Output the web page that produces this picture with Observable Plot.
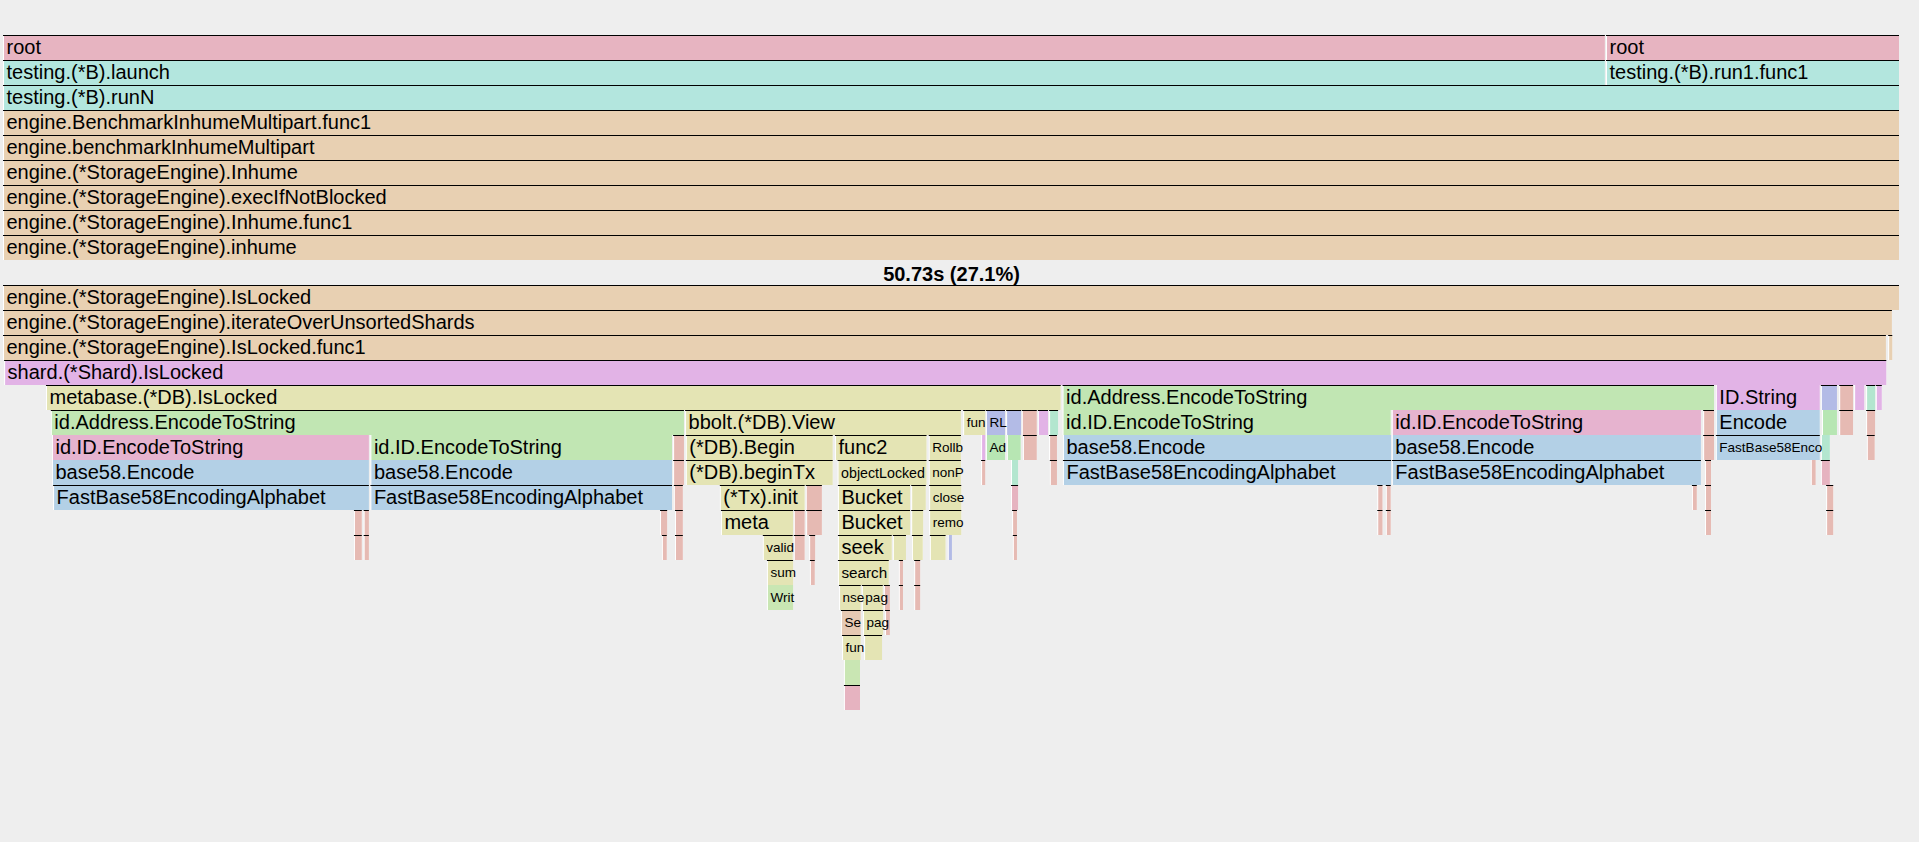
<!DOCTYPE html>
<html>
<head>
<meta charset="utf-8">
<script src="https://cdn.jsdelivr.net/npm/d3@7"></script>
<script src="https://cdn.jsdelivr.net/npm/@observablehq/plot@0.6"></script>
<style>
  html, body { margin: 0; padding: 0; background: #eeeeee; }
  #chart svg { display: block; }
</style>
</head>
<body>
<div id="chart"></div>
<script>
// Total time of the pivot frame (seconds) and its label
const total = 50.73;
const pivotLabel = "50.73s (27.1%)";
const pivotDepth = 9;

// Each row: [label, start (s), duration (s), package, inlined?]
const row0 = [["root", 0, 42.86, "root"], ["root", 42.89, 7.84, "root"]];
const row1 = [["testing.(*B).launch", 0, 42.86, "testing"], ["testing.(*B).run1.func1", 42.89, 7.84, "testing"]];
const row2 = [["testing.(*B).runN", 0, 50.73, "testing"]];
const row3 = [["engine.BenchmarkInhumeMultipart.func1", 0, 50.73, "engine"]];
const row4 = [["engine.benchmarkInhumeMultipart", 0, 50.73, "engine"]];
const row5 = [["engine.(*StorageEngine).Inhume", 0, 50.73, "engine"]];
const row6 = [["engine.(*StorageEngine).execIfNotBlocked", 0, 50.73, "engine"]];
const row7 = [["engine.(*StorageEngine).Inhume.func1", 0, 50.73, "engine"]];
const row8 = [["engine.(*StorageEngine).inhume", 0, 50.73, "engine"]];
const row9 = [];
const row10 = [["engine.(*StorageEngine).IsLocked", 0, 50.73, "engine"]];
const row11 = [["engine.(*StorageEngine).iterateOverUnsortedShards", 0, 50.54, "engine"]];
const row12 = [["engine.(*StorageEngine).IsLocked.func1", 0, 50.38, "engine"], ["", 50.44, 0.11, "engine"]];
const row13 = [["shard.(*Shard).IsLocked", 0.03, 50.36, "shard"]];
const row14 = [
  ["metabase.(*DB).IsLocked", 1.15, 27.15, "metabase"], ["id.Address.EncodeToString", 28.35, 17.43, "oid"],
  ["ID.String", 45.83, 2.78, "shard", 1], ["", 48.64, 0.43, "sync"], ["", 49.13, 0.37, "runtime"],
  ["", 49.53, 0.27, "shard", 1], ["", 49.85, 0.24, "bytes"], ["", 50.11, 0.16, "shard"]
];
const row15 = [
  ["id.Address.EncodeToString", 1.28, 16.94, "oid"], ["bbolt.(*DB).View", 18.25, 7.38, "bbolt"],
  ["fun", 25.69, 0.59, "metabase"], ["RL", 26.30, 0.51, "sync"], ["", 26.84, 0.40, "sync"],
  ["", 27.26, 0.40, "runtime"], ["", 27.69, 0.27, "shard"], ["", 27.99, 0.24, "bytes"],
  ["id.ID.EncodeToString", 28.35, 8.78, "oid", 1], ["id.ID.EncodeToString", 37.16, 8.27, "cid", 1],
  ["", 45.49, 0.29, "runtime"], ["Encode", 45.83, 2.78, "base58", 1], ["", 48.67, 0.40, "addr", 1],
  ["", 49.13, 0.37, "runtime"], ["", 49.85, 0.24, "runtime"]
];
const row16 = [
  ["id.ID.EncodeToString", 1.31, 8.48, "cid", 1], ["id.ID.EncodeToString", 9.83, 8.07, "oid", 1],
  ["", 17.93, 0.29, "runtime"], ["(*DB).Begin", 18.27, 3.93, "bbolt"], ["func2", 22.26, 2.45, "metabase"],
  ["Rollb", 24.77, 0.86, "bbolt"], ["", 26.17, 0.11, "shard", 1], ["Ad", 26.30, 0.51, "addr", 1],
  ["", 26.86, 0.37, "addr", 1], ["", 27.29, 0.37, "runtime"], ["", 27.99, 0.21, "runtime"],
  ["base58.Encode", 28.36, 8.78, "base58", 1], ["base58.Encode", 37.16, 8.27, "base58", 1],
  ["", 45.49, 0.29, "runtime"], ["FastBase58Enco", 45.83, 2.78, "base58"], ["", 48.64, 0.24, "bytes", 1],
  ["", 49.87, 0.21, "runtime"]
];
const row17 = [
  ["base58.Encode", 1.31, 8.48, "base58", 1], ["base58.Encode", 9.83, 8.07, "base58", 1],
  ["", 17.93, 0.29, "runtime"], ["(*DB).beginTx", 18.27, 3.93, "bbolt"], ["objectLocked", 22.33, 2.38, "metabase"],
  ["nonP", 24.77, 0.86, "bbolt"], ["", 26.17, 0.11, "runtime"], ["", 26.97, 0.19, "bytes", 1],
  ["", 28.01, 0.19, "runtime"], ["FastBase58EncodingAlphabet", 28.36, 8.78, "base58"],
  ["FastBase58EncodingAlphabet", 37.16, 8.27, "base58"], ["", 45.54, 0.16, "runtime"],
  ["", 48.37, 0.13, "runtime", 1], ["", 48.64, 0.24, "cmp"]
];
const row18 = [
  ["FastBase58EncodingAlphabet", 1.34, 8.45, "base58"], ["FastBase58EncodingAlphabet", 9.83, 8.07, "base58"],
  ["", 17.95, 0.24, "runtime"], ["(*Tx).init", 19.18, 2.27, "bbolt"], ["", 21.48, 0.43, "runtime"],
  ["Bucket", 22.34, 1.93, "bbolt"], ["", 24.30, 0.39, "bbolt"], ["close", 24.78, 0.86, "bbolt"],
  ["", 26.97, 0.19, "cmp"], ["", 36.77, 0.14, "runtime"], ["", 37.00, 0.13, "runtime"],
  ["", 45.19, 0.13, "runtime"], ["", 45.54, 0.16, "runtime"], ["", 48.78, 0.19, "runtime"]
];
const row19 = [
  ["", 9.39, 0.21, "runtime"], ["", 9.65, 0.14, "runtime"], ["", 17.58, 0.19, "runtime"],
  ["", 17.98, 0.21, "runtime"], ["meta", 19.21, 1.93, "bbolt"], ["", 21.16, 0.29, "runtime"],
  ["", 21.49, 0.42, "runtime"], ["Bucket", 22.34, 1.93, "bbolt"], ["", 24.30, 0.32, "bbolt"],
  ["remo", 24.78, 0.86, "bbolt"], ["", 27.00, 0.13, "runtime"], ["", 36.77, 0.14, "runtime"],
  ["", 37.00, 0.13, "runtime"], ["", 45.54, 0.16, "runtime"], ["", 48.78, 0.19, "runtime"]
];
const row20 = [
  ["", 9.39, 0.21, "runtime"], ["", 9.65, 0.14, "runtime"], ["", 17.63, 0.13, "runtime"],
  ["", 17.98, 0.21, "runtime"], ["valid", 20.33, 0.80, "bbolt"], ["", 21.16, 0.29, "runtime"],
  ["", 21.57, 0.16, "runtime"], ["seek", 22.34, 1.44, "bbolt"], ["", 23.81, 0.35, "bbolt"],
  ["", 24.32, 0.29, "bbolt"], ["", 24.80, 0.42, "bbolt"], ["", 25.28, 0.11, "sync", 1],
  ["", 27.02, 0.11, "runtime"]
];
const row21 = [
  ["sum", 20.44, 0.70, "bbolt"], ["", 21.59, 0.13, "runtime"], ["search", 22.34, 1.36, "bbolt"],
  ["", 23.97, 0.11, "runtime"], ["", 24.38, 0.16, "runtime"]
];
const row22 = [
  ["Writ", 20.44, 0.70, "crc", 1], ["nse", 22.37, 0.58, "bbolt"], ["pag", 22.98, 0.56, "bbolt"],
  ["", 23.57, 0.16, "runtime"], ["", 23.97, 0.11, "runtime"], ["", 24.38, 0.16, "runtime"]
];
const row23 = [["Se", 22.42, 0.53, "sort"], ["pag", 23.01, 0.54, "bbolt"], ["", 23.60, 0.13, "runtime"]];
const row24 = [["fun", 22.45, 0.50, "bbolt"], ["", 23.04, 0.48, "bbolt"]];
const row25 = [["", 22.50, 0.43, "crc", 1]];
const row26 = [["", 22.50, 0.43, "cmp"]];

const rows = [row0, row1, row2, row3, row4, row5, row6, row7, row8, row9, row10, row11, row12,
  row13, row14, row15, row16, row17, row18, row19, row20, row21, row22, row23, row24, row25, row26];

// Package -> colour
const pkgDomain = ["root", "testing", "engine", "shard", "metabase", "bbolt", "oid", "cid", "base58",
  "runtime", "sync", "bytes", "addr", "sort", "crc", "cmp"];
const pkgColors = ["#e7b4c1", "#b3e6de", "#e8d0b2", "#e2b3e6", "#e4e4b4", "#e4e4b4", "#c1e6b3", "#e6b3cf",
  "#b3d0e6", "#e6bab3", "#b3bbe6", "#b3e6cf", "#b7e6b3", "#e6c9b3", "#c9e6b3", "#e6b3c0"];

const boxes = rows.flatMap((r, depth) => r.map(([label, start, value, pkg, inl]) =>
  ({label, start, end: start + value, value, pkg, inl: !!inl, depth})));

const xOpts = {domain: [0, total], range: [3, 1899]};
const xs = Plot.scale({x: xOpts});
const FONT = '"Liberation Sans", Arial, Helvetica, sans-serif';
const ctx = document.createElement("canvas").getContext("2d");
function tw(s, fs) { ctx.font = `${fs}px ${FONT}`; return ctx.measureText(s).width; }

const labeled = boxes.filter(d => d.label).map(d => {
  const avail = xs.apply(d.end) - xs.apply(d.start) - 5;
  const w20 = tw(d.label, 20);
  let fs = 20;
  if (w20 > avail) fs = Math.max(13.5, 20 * avail / w20);
  let t = d.label;
  while (t.length > 1 && tw(t, fs) > avail + 10) t = t.slice(0, -1);
  return {...d, shown: t, fs};
});

const chart = Plot.plot({
  width: 1919,
  height: 842,
  margin: 0,
  x: {...xOpts, axis: null},
  y: {domain: [0, 27], range: [35, 710], axis: null},
  color: {domain: pkgDomain, range: pkgColors},
  style: {background: "#eeeeee", fontFamily: FONT, color: "#000"},
  marks: [
    Plot.rect(boxes, {x1: "start", x2: "end", y1: "depth", y2: d => d.depth + 1, fill: "#ffffff"}),
    Plot.rect(boxes, {x1: "start", x2: "end", y1: "depth", y2: d => d.depth + 1, fill: "pkg", insetLeft: 1}),
    Plot.ruleY(boxes.filter(d => !d.inl), {y: "depth", x1: "start", x2: "end", stroke: "#000", strokeWidth: 1}),
    Plot.text(labeled, {x: "start", y: d => d.depth + 0.5, text: "shown", textAnchor: "start", dx: 3,
      fontSize: d => d.fs, fill: "#000"}),
    Plot.text([pivotLabel], {x: total / 2, y: pivotDepth + 0.5, text: d => d, fontWeight: "bold",
      fontSize: 20, dy: 2, fill: "#000"})
  ]
});
document.getElementById("chart").appendChild(chart);
</script>
</body>
</html>
